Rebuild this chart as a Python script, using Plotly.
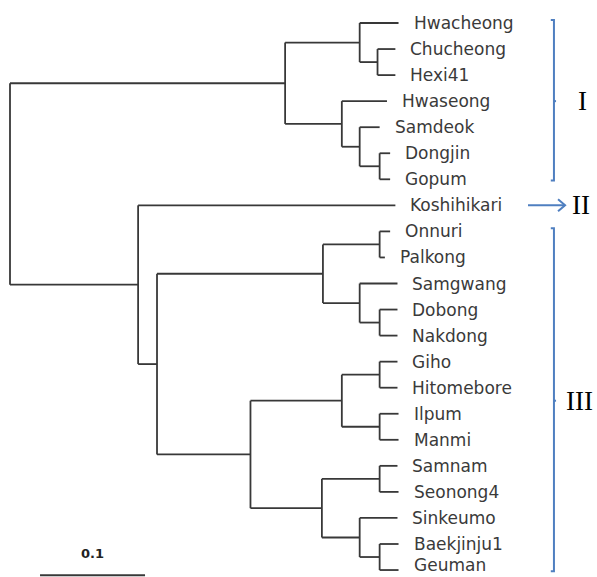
import plotly.graph_objects as go

# ---- data ----
leaf_names = ["Hwacheong", "Chucheong", "Hexi41", "Hwaseong", "Samdeok", "Dongjin", "Gopum",
              "Koshihikari", "Onnuri", "Palkong", "Samgwang", "Dobong", "Nakdong", "Giho",
              "Hitomebore", "Ilpum", "Manmi", "Samnam", "Seonong4", "Sinkeumo", "Baekjinju1", "Geuman"]
leaf_depth = [0.370, 0.367, 0.367, 0.359, 0.352, 0.362, 0.362,
              0.367, 0.362, 0.357, 0.369, 0.369, 0.369, 0.369,
              0.369, 0.370, 0.370, 0.369, 0.370, 0.369, 0.370, 0.370]
leaf_parent = ["A1", "A1a", "A1a", "A2", "A2a", "A2b", "A2b",
               "B", "D1", "D1", "D2", "D2a", "D2a", "F1",
               "F1", "F2", "F2", "G1", "G1", "G2", "G2a", "G2a"]

node_names = ["root", "A", "A1", "A1a", "A2", "A2a", "A2b", "B", "C", "D", "D1", "D2", "D2a",
              "E", "F", "F1", "F2", "G", "G1", "G2", "G2a"]
node_depth = [0.000, 0.262, 0.333, 0.350, 0.316, 0.333, 0.352, 0.122, 0.140, 0.298, 0.352, 0.333, 0.352,
              0.229, 0.316, 0.352, 0.352, 0.297, 0.352, 0.333, 0.352]
node_parent = [None, "root", "A", "A1", "A", "A2", "A2a", "root", "B", "C", "D", "D", "D2",
               "C", "E", "F", "F", "E", "G", "G", "G2"]

groups = ["I", "II", "III"]
group_first = [0, 7, 8]
group_last = [6, 7, 21]

scale_value = 0.1
scale_label = "0.1"

# ---- build tree geometry ----
depth = {}
parent = {}
children = {n: [] for n in node_names}
for n, d, p in zip(node_names, node_depth, node_parent):
    depth[n] = d
    parent[n] = p
    if p is not None:
        children[p].append(n)
ypos = {}
for i, (n, d, p) in enumerate(zip(leaf_names, leaf_depth, leaf_parent)):
    depth[n] = d
    parent[n] = p
    ypos[n] = i
    children[p].append(n)


def get_y(n):
    if n in ypos:
        return ypos[n]
    ys = [get_y(c) for c in children[n]]
    ypos[n] = (min(ys) + max(ys)) / 2
    return ypos[n]


get_y("root")

xs, ys = [], []
for n in node_names:
    cy = [ypos[c] for c in children[n]]
    xs += [depth[n], depth[n], None]
    ys += [min(cy), max(cy), None]
    for c in children[n]:
        xs += [depth[n], depth[c], None]
        ys += [ypos[c], ypos[c], None]

line_col = "#383838"
fig = go.Figure()
fig.add_trace(go.Scatter(x=xs, y=ys, mode="lines", line=dict(color=line_col, width=1.8),
                         hoverinfo="skip", showlegend=False))

n_leaves = len(leaf_names)
for i, (n, d) in enumerate(zip(leaf_names, leaf_depth)):
    fig.add_annotation(x=d, y=ypos[n], text=n, showarrow=False, xanchor="left", yanchor="middle",
                       xshift=14, yshift=5 if i == n_leaves - 1 else 0, borderpad=0,
                       font=dict(family="DejaVu Sans", size=17, color="#3a3a3a"))

# scale bar
sb_x0 = 0.0286
sb_y = 21.2
fig.add_trace(go.Scatter(x=[sb_x0, sb_x0 + scale_value], y=[sb_y, sb_y], mode="lines",
                         line=dict(color=line_col, width=2), hoverinfo="skip", showlegend=False))
fig.add_annotation(x=sb_x0 + scale_value / 2, y=sb_y - 0.85, text="<b>" + scale_label + "</b>",
                   showarrow=False, font=dict(family="DejaVu Sans", size=13, color="#222222"))

# group brackets
blue = "#4f7fc0"
bx = 0.518
num_right = 0.5575
bxs, bys = [], []
numeral_font = dict(family="Liberation Serif", size=27, color="#000000")
for g, f, l in zip(groups, group_first, group_last):
    mid = (f + l) / 2
    if f == l:
        ax0, ax1 = 0.4933, 0.5286
        bxs += [ax0, ax1, None, ax1 - 0.0067, ax1, ax1 - 0.0067, None]
        bys += [f, f, None, f - 0.23, f, f + 0.23, None]
    else:
        y0, y1 = f - 0.12, l + 0.05
        bxs += [bx - 0.003, bx, bx, bx - 0.003, None, bx, bx + 0.002, None]
        bys += [y0, y0, y1, y1, None, mid, mid, None]
    fig.add_annotation(x=num_right, y=mid, text=g, showarrow=False, xanchor="right",
                       xshift=-(3 - len(g)) * 3, font=numeral_font)
fig.add_trace(go.Scatter(x=bxs, y=bys, mode="lines", line=dict(color=blue, width=2),
                         hoverinfo="skip", showlegend=False))

fig.update_layout(
    width=597, height=577, margin=dict(l=0, r=0, t=0, b=0),
    paper_bgcolor="white", plot_bgcolor="white",
    xaxis=dict(range=[-0.00952, 0.5590], visible=False, fixedrange=True),
    yaxis=dict(range=[21.267, -0.883], visible=False, fixedrange=True),
    showlegend=False,
)
fig.write_html("out.html", config={"displayModeBar": False},
               post_script="document.body.style.margin='0';document.body.style.overflow='hidden';")
